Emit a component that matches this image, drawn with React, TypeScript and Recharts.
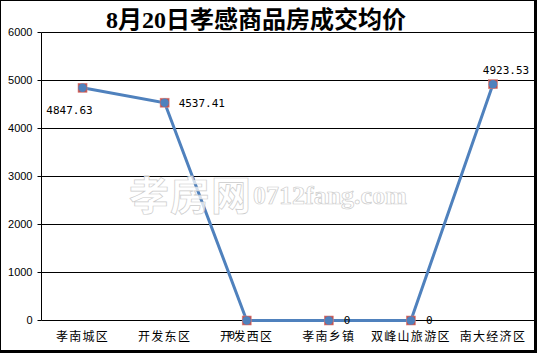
import React from 'react';
import { LineChart, Line, XAxis, YAxis, CartesianGrid, LabelList } from 'recharts';

const categories = ['孝南城区', '开发东区', '开发西区', '孝南乡镇', '双峰山旅游区', '南大经济区'];
const prices = [4847.63, 4537.41, 0, 0, 0, 4923.53];
const priceLabels = ['4847.63', '4537.41', '0', '0', '0', '4923.53'];
const yTicks = [0, 1000, 2000, 3000, 4000, 5000, 6000];
const boundaryTicks = [0, 1, 2, 3, 4, 5, 6];
const title = '8月20日孝感商品房成交均价';

const data = categories.map((name, i) => ({ name, price: prices[i], label: priceLabels[i] }));

// label placement styling (offset from the point, anchor)
const labelDx = [-13, 14, -15, 15, 15, 13];
const labelDy = [22, 0, 15, 0, 0, -14];
const labelAnchor: Array<'start' | 'middle' | 'end'> = ['middle', 'start', 'middle', 'start', 'start', 'middle'];

const PriceLabel = (props: any) => {
  const { x, y, index } = props;
  if (x == null || y == null) return null;
  return (
    <text
      x={x + labelDx[index]}
      y={y + labelDy[index]}
      dy="0.35em"
      textAnchor={labelAnchor[index]}
      fontFamily="'DejaVu Sans Mono', 'Liberation Mono', monospace"
      fontSize={11}
      fill="#000"
    >
      {data[index].label}
    </text>
  );
};

const Marker = (props: any) => {
  const { cx, cy } = props;
  if (cx == null || cy == null) return null;
  return (
    <g>
      <rect x={cx - 4.5} y={cy - 4.5} width={9} height={9} fill="#C0504D" stroke="#D9827F" strokeWidth={0.6} />
      <circle cx={cx} cy={cy} r={4.2} fill="#4F81BD" />
    </g>
  );
};

export default function App() {
  return (
    <div style={{ position: 'absolute', left: 0, top: 0, width: 538, height: 353, background: '#fff' }}>
      <div
        style={{
          position: 'absolute',
          left: 0,
          top: 0,
          width: 537,
          height: 353,
          boxSizing: 'border-box',
          borderLeft: '1px solid #000',
          borderTop: '1px solid #000',
          borderRight: '3px solid #000',
          borderBottom: '3px solid #000',
        }}
      />
      <div style={{ position: 'absolute', left: 0, top: 0 }}>
        <LineChart width={538} height={353} data={data} margin={{ top: 32.5, right: 4, bottom: 2.5, left: 0.5 }}>
          <CartesianGrid vertical={false} stroke="#000" strokeOpacity={1} xAxisId="cat" />
          <XAxis
            xAxisId="tk"
            type="number"
            domain={[0, 6]}
            allowDataOverflow
            ticks={boundaryTicks}
            tick={false}
            tickSize={4}
            height={0}
            axisLine={{ stroke: '#000' }}
            tickLine={{ stroke: '#000' }}
          />
          <XAxis
            xAxisId="cat"
            dataKey="name"
            scale="band"
            height={30}
            axisLine={false}
            tickLine={false}
            tickSize={0}
            tickMargin={12}
            interval={0}
            tick={{ fill: '#000', fontSize: 12, fontFamily: "'Noto Sans CJK SC', sans-serif", letterSpacing: 1.3 }}
          />
          <YAxis
            domain={[0, 6000]}
            ticks={yTicks}
            width={41}
            tickSize={4}
            tickMargin={5}
            axisLine={{ stroke: '#000' }}
            tickLine={{ stroke: '#000' }}
            tick={{ fill: '#000', fontSize: 11, fontFamily: "'Liberation Sans', Arial, sans-serif" }}
          />
          <Line
            xAxisId="cat"
            type="linear"
            dataKey="price"
            stroke="#4F81BD"
            strokeWidth={3}
            dot={<Marker />}
            activeDot={false}
            isAnimationActive={false}
          >
            <LabelList dataKey="price" content={<PriceLabel />} />
          </Line>
        </LineChart>
      </div>
      <svg width={538} height={353} style={{ position: 'absolute', left: 0, top: 0, pointerEvents: 'none' }}>
        <text
          x={256}
          y={28}
          textAnchor="middle"
          fontFamily="'Liberation Serif', 'Noto Sans CJK SC', serif"
          fontWeight="bold"
          fontSize={24}
          fill="#000"
        >
          {title}
        </text>
        <g fill="#fff" fillOpacity={0.75} stroke="#cccccc" strokeWidth={0.7}>
          <text x={129} y={210} fontFamily="'Noto Sans CJK SC', sans-serif" fontWeight="bold" fontSize={40} letterSpacing={1}>
            孝房网
          </text>
          <text x={253} y={204} fontFamily="'Liberation Serif', serif" fontWeight="bold" fontSize={26}>
            0712fang.com
          </text>
        </g>
      </svg>
    </div>
  );
}
